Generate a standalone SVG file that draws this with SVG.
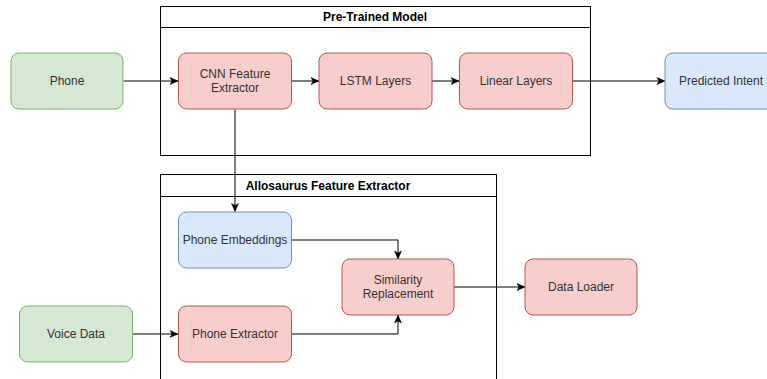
<svg xmlns="http://www.w3.org/2000/svg" width="767" height="379" viewBox="0 0 767 379">
<defs>
<style>
.box{stroke-width:1}
.green{fill:#d5e8d4;stroke:#82b366}
.red{fill:#f8cecc;stroke:#b85450}
.blue{fill:#dae8fc;stroke:#6c8ebf}
.cont{fill:none;stroke:#000;stroke-width:1}
.lbl{font-family:"Liberation Sans",Arial,sans-serif;font-size:12px;fill:#333;text-anchor:middle;dominant-baseline:central}
.title{font-family:"Liberation Sans",Arial,sans-serif;font-size:12px;font-weight:bold;fill:#000;text-anchor:middle;dominant-baseline:central}
.edge{fill:none;stroke:#000;stroke-width:1;marker-end:url(#arr)}
</style>
<marker id="arr" markerUnits="userSpaceOnUse" markerWidth="10" markerHeight="10" viewBox="0 0 10 10" refX="9" refY="5" orient="auto">
<path d="M1,1.5 L9,5 L1,8.5 L3,5 Z" fill="#000" stroke="#000" stroke-width="0.5"/>
</marker>
</defs>
<rect width="767" height="379" fill="#fff"/>

<g id="pretrained">
<rect class="cont" x="160.5" y="6.5" width="430" height="149"/>
<line x1="160.5" y1="27.5" x2="590.5" y2="27.5" stroke="#000"/>
<text class="title" x="375" y="17">Pre-Trained Model</text>
</g>
<g id="allosaurus">
<rect class="cont" x="160.5" y="174.5" width="336" height="220"/>
<line x1="160.5" y1="196.5" x2="496.5" y2="196.5" stroke="#000"/>
<text class="title" x="328" y="185.5">Allosaurus Feature Extractor</text>
</g>

<g id="connectors">
<path class="edge" d="M123.5,81 L178,81"/>
<path class="edge" d="M291.5,81 L319,81"/>
<path class="edge" d="M431.5,81 L459,81"/>
<path class="edge" d="M572.5,81 L665,81"/>
<path class="edge" d="M235,109.5 L235,211.5"/>
<path class="edge" d="M291.5,240 L398,240 L398,259"/>
<path class="edge" d="M291.5,334 L398,334 L398,315"/>
<path class="edge" d="M454,287 L525,287"/>
<path class="edge" d="M132.5,334 L178,334"/>
</g>

<g id="phone"><rect class="green" x="11" y="53" width="112" height="56" rx="8"/><text class="lbl" x="67" y="81">Phone</text></g>
<g id="cnn"><rect class="red" x="178.5" y="53" width="113" height="56" rx="8"/><text class="lbl" x="235" y="74">CNN Feature</text><text class="lbl" x="235" y="88">Extractor</text></g>
<g id="lstm"><rect class="red" x="319" y="53" width="113" height="56" rx="8"/><text class="lbl" x="375.5" y="81">LSTM Layers</text></g>
<g id="linear"><rect class="red" x="459.5" y="53" width="113" height="56" rx="8"/><text class="lbl" x="516" y="81">Linear Layers</text></g>
<g id="intent"><rect class="blue" x="665" y="53" width="113" height="56" rx="8"/><text class="lbl" x="721" y="81">Predicted Intent</text></g>
<g id="embeddings"><rect class="blue" x="178.5" y="212" width="113" height="56" rx="8"/><text class="lbl" x="235" y="240">Phone Embeddings</text></g>
<g id="similarity"><rect class="red" x="342" y="259" width="112" height="56" rx="8"/><text class="lbl" x="398" y="280">Similarity</text><text class="lbl" x="398" y="294">Replacement</text></g>
<g id="dataloader"><rect class="red" x="525" y="259" width="112" height="56" rx="8"/><text class="lbl" x="581" y="287">Data Loader</text></g>
<g id="voice"><rect class="green" x="19.5" y="306" width="113" height="56" rx="8"/><text class="lbl" x="76" y="334">Voice Data</text></g>
<g id="extractor"><rect class="red" x="178.5" y="306" width="113" height="56" rx="8"/><text class="lbl" x="235" y="334">Phone Extractor</text></g>
</svg>
